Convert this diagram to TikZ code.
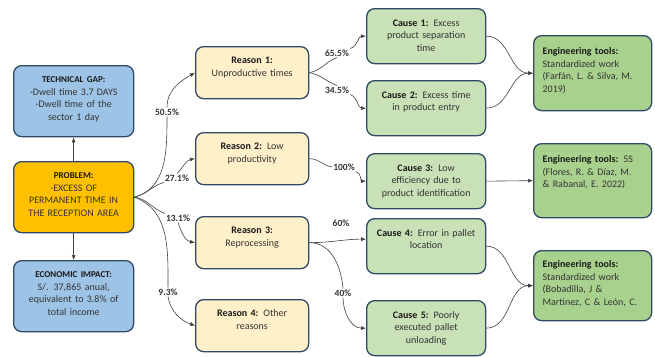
\documentclass[tikz,border=0pt]{standalone}
\usepackage{fontspec}
\setmainfont{Carlito}
\usetikzlibrary{arrows.meta}

\definecolor{edgeblue}{HTML}{2F4A66}
\definecolor{gapblue}{HTML}{9DC3E6}
\definecolor{probgold}{HTML}{FFC000}
\definecolor{reasoncream}{HTML}{FFF0C9}
\definecolor{causegreen}{HTML}{C9E1B6}
\definecolor{toolgreen}{HTML}{A9D18E}
\definecolor{inktext}{HTML}{333333}

\tikzset{
  box/.style={draw=edgeblue, line width=1.3pt, rounded corners=8pt, anchor=north west,
    inner xsep=4pt, inner ysep=0pt, align=center, text=inktext,
    font=\fontsize{10}{12.5}\selectfont},
  sidebox/.style={box, text width=112pt, text height=17pt, text depth=54pt},
  reasonbox/.style={box, fill=reasoncream, text width=105pt, text height=17pt, text depth=35pt},
  causebox/.style={box, fill=causegreen, text width=111pt, text height=17.5pt, text depth=37.5pt},
  toolbox/.style={box, fill=toolgreen, align=left, inner xsep=9pt, text width=100pt, text height=19pt},
  pct/.style={font=\fontsize{9.5}{10}\selectfont\bfseries, text=inktext, inner sep=1pt},
  link/.style={draw=black!75, line width=0.6pt},
  arr/.style={link, -{Latex[length=5pt,width=4pt]}},
}
\newcommand{\hd}[1]{\textcolor{black!90}{\textbf{#1}}}
\newcommand{\sidehd}[1]{{\fontsize{9}{12.5}\selectfont\hd{#1}}}

\begin{document}
\begin{tikzpicture}[x=1pt, y=-1pt]
    \useasboundingbox (0,0) rectangle (655,356);

    \node[sidebox, fill=gapblue] (gap) at (13,65) {\sidehd{TECHNICAL GAP:}\\-Dwell time 3.7 DAYS\\-Dwell time of the\\sector 1 day};
    \node[sidebox, fill=probgold] (prob) at (13,161) {\sidehd{PROBLEM:}\\-EXCESS OF\\PERMANENT TIME IN\\THE RECEPTION AREA};
    \node[sidebox, fill=gapblue] (cost) at (13,260) {\sidehd{ECONOMIC IMPACT:}\\S/. 37,865 anual,\\equivalent to 3.8\% of\\total income};

    \node[reasonbox] (r1) at (195,46) {\hd{Reason 1:}\\Unproductive times};
    \node[reasonbox] (r2) at (195,132) {\hd{Reason 2:} Low\\productivity};
    \node[reasonbox] (r3) at (195,216) {\hd{Reason 3:}\\Reprocessing};
    \node[reasonbox] (r4) at (195,299) {\hd{Reason 4:} Other\\reasons};

    \node[causebox] (c1) at (366,8) {\hd{Cause 1:} Excess\\product separation\\time};
    \node[causebox] (c2) at (366,80) {\hd{Cause 2:} Excess time\\in product entry};
    \node[causebox] (c3) at (366,153) {\hd{Cause 3:} Low\\efficiency due to\\product identification};
    \node[causebox] (c4) at (366,218) {\hd{Cause 4:} Error in pallet\\location};
    \node[causebox] (c5) at (366,300) {\hd{Cause 5:} Poorly\\executed pallet\\unloading};

    \node[toolbox, text depth=56pt] (t1) at (533,35) {\hd{Engineering tools:}\\Standardized work\\(Farfán, L. \& Silva, M.\\2019)};
    \node[toolbox, text depth=55pt] (t2) at (533,143) {\hd{Engineering tools:} 5S\\(Flores, R. \& Díaz, M.\\\& Rabanal, E. 2022)};
    \node[toolbox, text depth=53pt, text height=17pt] (t3) at (533,250) {\hd{Engineering tools:}\\Standardized work\\(Bobadilla, J \&\\Martinez, C \& León, C.};

    \node[pct] (p1) at (167,112) {50.5\%};
    \node[pct] (p2) at (177,178) {27.1\%};
    \node[pct] (p3) at (178,218) {13.1\%};
    \node[pct] (p4) at (168,292) {9.3\%};
    \node[pct] (p5) at (337,53) {65.5\%};
    \node[pct] (p6) at (337,90) {34.5\%};
    \node[pct] (p7) at (344,167) {100\%};
    \node[pct] (p8) at (341,223) {60\%};
    \node[pct] (p9) at (343,293) {40\%};

    \draw[arr] (prob.north) -- (gap.south);
    \draw[arr] (prob.south) -- (cost.north);

    \draw[link] (prob.east) to[out=15, in=-90] (p1.south);
    \draw[arr] (p1.north) to[out=90, in=210] (r1.west);
    \draw[link] (prob.east) to[out=12, in=195] (p2.south west);
    \draw[arr] (p2.north) to[out=45, in=190] (r2.west);
    \draw[link] (prob.east) to[out=-8, in=160] (p3.north west);
    \draw[arr] (p3.south) to[out=-70, in=170] (r3.west);
    \draw[link] (prob.east) to[out=-20, in=90] (p4.north);
    \draw[arr] (p4.south) to[out=-80, in=160] (r4.west);

    \draw[link] (r1.east) to[out=10, in=200] (p5.south);
    \draw[arr] (p5.north east) to[out=15, in=180] (c1.west);
    \draw[link] (r1.east) to[out=-10, in=160] (p6.north);
    \draw[arr] (p6.south east) to[out=-20, in=180] (c2.west);

    \draw[link] (r2.east) to[out=0, in=170] (p7.west);
    \draw[arr] (p7.south east) to[out=-10, in=180] (c3.west);

    \draw[arr] (r3.east) to[out=0, in=180] ([yshift=7pt]c4.west);
    \draw[link] (r3.east) to[out=0, in=95] (p9.north);
    \draw[arr] (p9.south) to[out=-90, in=180] (c5.west);

    \draw[arr] (c1.east) to[out=0, in=180] (t1.west);
    \draw[arr] (c2.east) to[out=0, in=180] (t1.west);
    \draw[arr] (c3.east) -- (t2.west);
    \draw[arr] (c4.east) to[out=0, in=180] (t3.west);
    \draw[arr] (c5.east) to[out=0, in=180] (t3.west);
\end{tikzpicture}
\end{document}
